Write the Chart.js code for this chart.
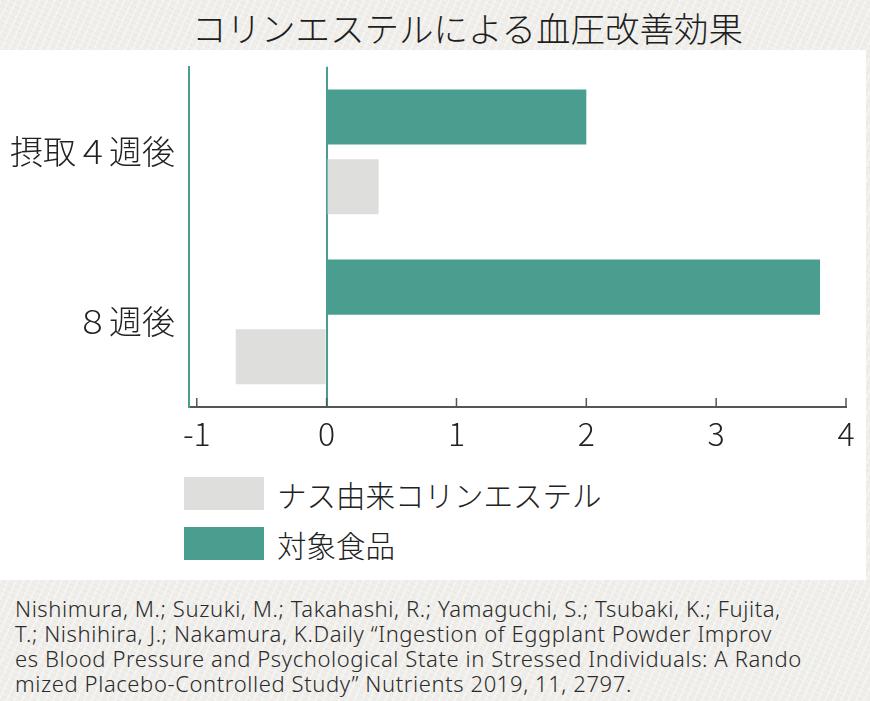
<!DOCTYPE html>
<html>
<head>
<meta charset="utf-8">
<script src="https://cdn.jsdelivr.net/npm/chart.js@4/dist/chart.umd.min.js"></script>
<style>
  body {
    margin: 0;
    width: 870px;
    height: 701px;
    overflow: hidden;
    background-color: #efeeea;
    background-image:
      repeating-linear-gradient(115deg, rgba(255,255,255,0.35) 0 2px, transparent 2px 7px),
      repeating-linear-gradient(25deg, rgba(0,0,0,0.025) 0 1px, transparent 1px 5px);
    font-family: "Noto Sans CJK JP", "Noto Sans", sans-serif;
    position: relative;
    color: #222;
  }
  #title {
    position: absolute;
    left: 192px;
    top: 2px;
    font-size: 34.5px;
    font-weight: 300;
    color: #1e1e1e;
  }
  #panel {
    position: absolute;
    left: 0;
    top: 50px;
    width: 866px;
    height: 530px;
    background: #ffffff;
  }
  #wrap {
    position: absolute;
    left: 0;
    top: 33px;
    width: 870px;
    height: 427px;
  }
  #legend {
    position: absolute;
    left: 184px;
    top: 477px;
  }
  .item {
    display: flex;
    align-items: center;
    height: 33px;
    margin-bottom: 17px;
    font-size: 29.5px;
    font-weight: 300;
    color: #222;
  }
  .box {
    width: 80px;
    height: 33px;
    margin-right: 13px;
  }
  #cite {
    position: absolute;
    left: 15px;
    top: 596px;
    font-size: 22px;
    line-height: 25px;
    letter-spacing: 0.6px;
    font-weight: 300;
    color: #2a2a2a;
    white-space: pre;
    font-family: "Noto Sans", "Noto Sans CJK JP", sans-serif;
  }
</style>
</head>
<body>
<div id="title">コリンエステルによる血圧改善効果</div>
<div id="panel"></div>
<div id="wrap"><canvas id="barChart"></canvas></div>
<div id="legend"></div>
<div id="cite">Nishimura, M.; Suzuki, M.; Takahashi, R.; Yamaguchi, S.; Tsubaki, K.; Fujita,
T.; Nishihira, J.; Nakamura, K.Daily “Ingestion of Eggplant Powder Improv
es Blood Pressure and Psychological State in Stressed Individuals: A Rando
mized Placebo-Controlled Study” Nutrients 2019, 11, 2797.</div>

<script>
/*---- data ----- */
var categories = ["摂取４週後", "８週後"];
var taishoValues = [2.0, 3.8];
var nasuValues = [0.4, -0.7];
var seriesNames = ["対象食品", "ナス由来コリンエステル"];
var xTicks = [-1, 0, 1, 2, 3, 4];

var teal = '#4a9e8f';
var grey = '#dededc';

/*---- tick marks pointing up ----- */
var upTicks = {
  id: 'upTicks',
  afterDraw: function (chart) {
    var c = chart.ctx;
    var x = chart.scales.x;
    var bottom = chart.chartArea.bottom;
    c.save();
    c.strokeStyle = '#555';
    c.lineWidth = 1.5;
    xTicks.forEach(function (v) {
      var px = x.getPixelForValue(v);
      c.beginPath();
      c.moveTo(px, bottom);
      c.lineTo(px, bottom - 9);
      c.stroke();
    });
    c.restore();
  }
};

var ctx = document.getElementById('barChart').getContext('2d');
var barChart = new Chart(ctx, {
  type: 'bar',
  data: {
    labels: categories,
    datasets: [{
      label: seriesNames[0],
      backgroundColor: teal,
      borderWidth: 0,
      data: taishoValues
    }, {
      label: seriesNames[1],
      backgroundColor: grey,
      borderWidth: 0,
      data: nasuValues
    }]
  },
  options: {
    indexAxis: 'y',
    responsive: true,
    maintainAspectRatio: false,
    animation: false,
    categoryPercentage: 0.82,
    barPercentage: 0.79,
    layout: { padding: { top: 0, right: 24, left: 0, bottom: 0 } },
    plugins: {
      legend: { display: false },
      tooltip: { enabled: false }
    },
    scales: {
      x: {
        type: 'linear',
        min: -1.06,
        max: 4,
        afterBuildTicks: function (scale) {
          scale.ticks = xTicks.map(function (v) { return { value: v }; });
        },
        afterFit: function (scale) { scale.height = 53; },
        border: { display: true, color: '#555', width: 2 },
        grid: {
          drawTicks: false,
          lineWidth: 2,
          color: function (c) {
            return c.tick && c.tick.value === 0 ? teal : 'rgba(0,0,0,0)';
          }
        },
        ticks: {
          padding: 8,
          color: '#222',
          font: { family: '"Noto Sans CJK JP", "Noto Sans", sans-serif', size: 32, weight: '300' }
        }
      },
      y: {
        afterFit: function (scale) { scale.width = 189; },
        border: { display: true, color: teal, width: 2 },
        grid: { display: false, drawTicks: false },
        ticks: {
          padding: 14,
          color: '#222',
          font: { family: '"Noto Sans CJK JP", sans-serif', size: 33, weight: '300' }
        }
      }
    }
  },
  plugins: [upTicks]
});

/*---- legend (grey first, then teal) ----- */
var legendBox = document.getElementById('legend');
barChart.data.datasets.slice().reverse().forEach(function (ds) {
  var row = document.createElement('div');
  row.className = 'item';
  var sw = document.createElement('div');
  sw.className = 'box';
  sw.style.background = ds.backgroundColor;
  row.appendChild(sw);
  row.appendChild(document.createTextNode(ds.label));
  legendBox.appendChild(row);
});
</script>
</body>
</html>
